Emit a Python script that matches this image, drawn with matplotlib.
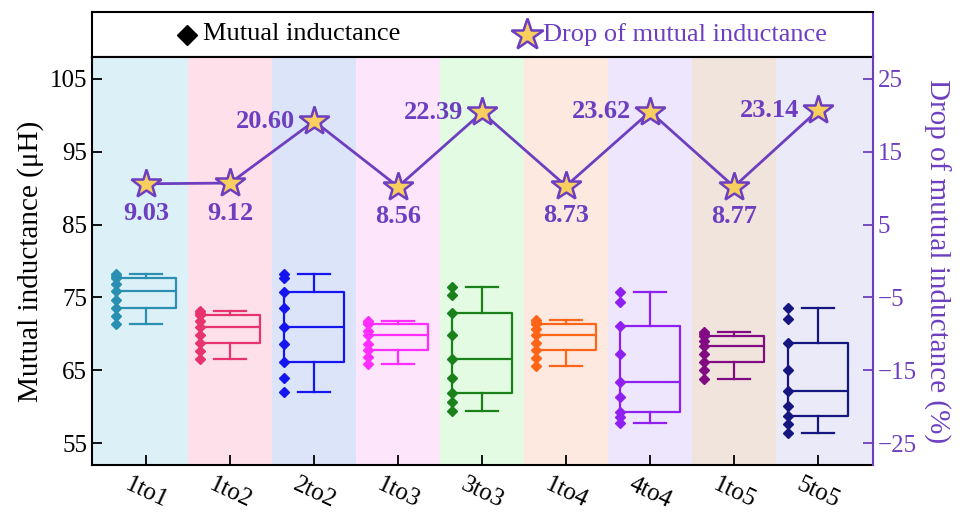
import matplotlib
matplotlib.use("Agg")
import matplotlib.pyplot as plt
import numpy as np

plt.rcParams['font.family'] = ['Liberation Serif', 'DejaVu Serif']

categories = ['1to1', '1to2', '2to2', '1to3', '3to3', '1to4', '4to4', '1to5', '5to5']

mutual = [
    [71.3, 72.5, 73.6, 74.7, 75.9, 76.8, 77.7, 78.0, 78.25],
    [66.55, 67.6, 68.74, 69.8, 70.9, 71.8, 72.63, 72.9, 73.13],
    [62.0, 64.0, 66.2, 68.6, 71.0, 73.5, 75.7, 77.7, 78.2],
    [65.8, 66.8, 67.8, 68.6, 69.9, 70.4, 71.3, 71.5, 71.75],
    [59.4, 60.7, 61.9, 64.0, 66.6, 69.8, 72.9, 75.4, 76.5],
    [65.6, 66.7, 67.74, 68.8, 69.8, 70.6, 71.4, 71.6, 71.85],
    [57.8, 58.6, 59.3, 61.3, 63.4, 67.2, 71.1, 74.4, 75.7],
    [63.8, 65.0, 66.2, 67.3, 68.4, 69.0, 69.7, 70.0, 70.2],
    [56.4, 57.6, 58.7, 60.1, 62.2, 65.1, 68.8, 72.1, 73.5],
]

drop_plot = [10.6, 10.7, 19.2, 10.2, 20.4, 10.3, 20.5, 10.2, 20.7]
drop_labels = ['9.03', '9.12', '20.60', '8.56', '22.39', '8.73', '23.62', '8.77', '23.14']

box_colors = ['#2a8fb0', '#e8346e', '#1515f0', '#ff2dff', '#1a801a',
              '#ff6518', '#9020f0', '#820a82', '#161680']
band_colors = ['#dcf0f8', '#fde0ea', '#dce4fa', '#fde6fc', '#e2fbe2',
               '#fde9df', '#eee6fd', '#f0e4dc', '#eaeaf8']

purple = '#6d3fc0'
star_fill = '#f8cf5f'

W, H = 967, 514
fig = plt.figure(figsize=(W / 100, H / 100), dpi=100)

L, R = 92 / W, 873 / W
B, T = (H - 465) / H, (H - 57) / H
ax = fig.add_axes([L, B, R - L, T - B])
ax.set_zorder(1)

x = np.arange(1, len(categories) + 1)
ax.set_xlim(0.355, 9.655)
ax.set_ylim(52, 108)

for i, c in enumerate(band_colors):
    lo = x[i] - 0.5 if i > 0 else 0
    hi = x[i] + 0.5 if i < len(x) - 1 else 10.5
    ax.axvspan(lo, hi, color=c, lw=0, zorder=0)

bw = 0.71
for i, vals in enumerate(mutual):
    col = box_colors[i]
    ax.boxplot([vals], positions=[x[i]], widths=bw, whis=(0, 100),
               showfliers=False, patch_artist=False, capwidths=0.38,
               boxprops=dict(color=col, lw=1.6),
               whiskerprops=dict(color=col, lw=1.6),
               capprops=dict(color=col, lw=1.6),
               medianprops=dict(color=col, lw=1.6),
               manage_ticks=False, zorder=3)
    ax.plot(np.full(len(vals), x[i] - bw / 2), vals, 'D', color=col,
            ms=5.2, mec=col, zorder=4, clip_on=False)

ax.set_xticks(x)
ax.set_xticklabels(categories, rotation=-25, ha='center', fontsize=18)
ax.set_yticks([55, 65, 75, 85, 95, 105])
ax.tick_params(axis='both', direction='in', length=7, width=1.3, labelsize=18)
ax.tick_params(axis='x', pad=6)
ax.set_ylabel('Mutual inductance (μH)', fontsize=21, labelpad=4)
for s in ax.spines.values():
    s.set_linewidth(1.5)
ax.spines['right'].set_visible(False)

ax2 = ax.twinx()
ax2.set_ylim(-28, 28)
ax2.set_yticks([-25, -15, -5, 5, 15, 25])
ax2.plot(x, drop_plot, '-', color=purple, lw=2, zorder=5)
ax2.plot(x, drop_plot, '*', ms=22, mfc=star_fill, mec=purple, mew=1.8, zorder=6)
for i, (xv, yv, lab) in enumerate(zip(x, drop_plot, drop_labels)):
    if float(lab) > 15:
        ax2.annotate(lab, (xv, yv), xytext=(-19, 0), textcoords='offset pixels',
                     ha='right', va='center', fontsize=19, fontweight='bold',
                     color=purple)
    else:
        ax2.annotate(lab, (xv, yv), xytext=(0, -30), textcoords='offset pixels',
                     ha='center', va='center', fontsize=19, fontweight='bold',
                     color=purple)
ax2.tick_params(axis='y', direction='in', length=7, width=1.3, labelsize=18,
                colors=purple)
ax2.spines['right'].set_color(purple)
ax2.spines['right'].set_linewidth(1.5)
for k in ['left', 'top', 'bottom']:
    ax2.spines[k].set_visible(False)
ax2.set_ylabel('Drop of mutual inductance (%)', fontsize=21, color=purple,
               rotation=270, labelpad=24)

# legend box on top
lax = fig.add_axes([L, (H - 57) / H, R - L, 45 / H])
lax.set_xlim(0, 1)
lax.set_ylim(0, 1)
lax.set_xticks([])
lax.set_yticks([])
for k in ['left', 'top', 'bottom']:
    lax.spines[k].set_linewidth(1.5)
    lax.spines[k].set_color('black')
lax.spines['right'].set_color(purple)
lax.spines['right'].set_linewidth(1.5)
lax.plot([(187 - 92) / 781], [0.5], 'D', color='black', ms=10)
lax.text((203 - 92) / 781, 0.5, 'Mutual inductance', fontsize=19,
         va='center', ha='left', color='black')
lax.plot([(527 - 92) / 781], [0.5], '*', ms=24, mfc=star_fill, mec=purple, mew=1.8)
lax.text((543 - 92) / 781, 0.5, 'Drop of mutual inductance', fontsize=19,
         va='center', ha='left', color=purple)

fig.savefig('out.png', dpi=100)
